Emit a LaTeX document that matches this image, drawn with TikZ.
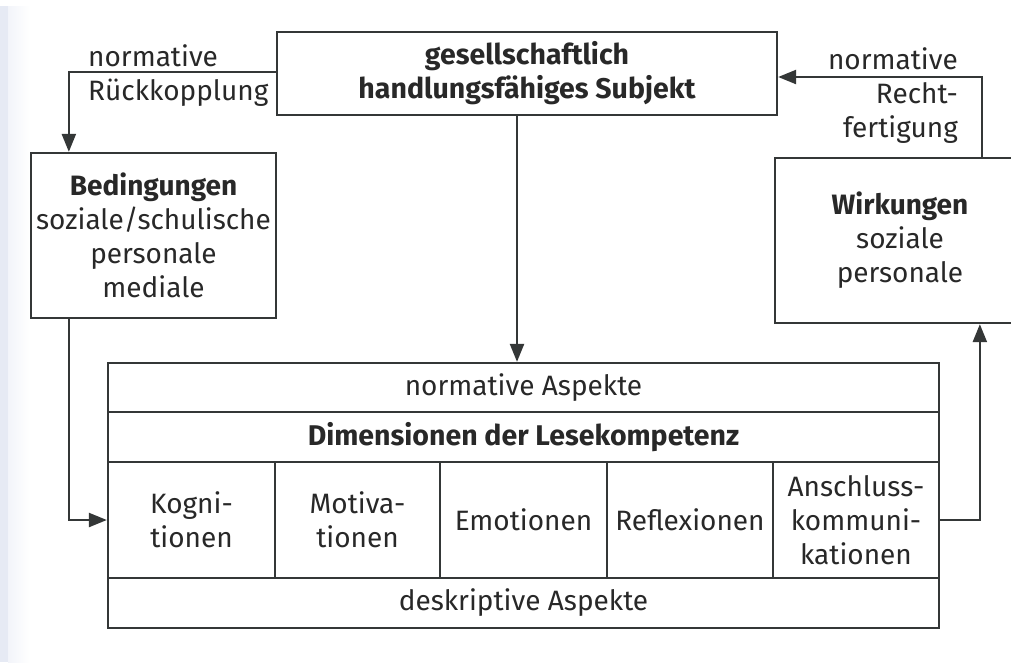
\documentclass[tikz,border=0pt]{standalone}
\usepackage{fontspec}
\setmainfont{Fira Sans}
\usetikzlibrary{arrows.meta}
\definecolor{ink}{RGB}{40,40,40}
\definecolor{rule}{RGB}{52,55,55}
\definecolor{pageedge}{RGB}{230,234,244}
\begin{document}
\begin{tikzpicture}[x=1pt,y=-1pt,
  every node/.style={text=ink, font=\fontsize{28}{34}\selectfont, inner sep=0pt, align=center},
  bold/.style={font=\fontsize{28.5}{34}\selectfont\bfseries},
  box/.style={draw=rule, line width=2.3pt},
  cell/.style={box, minimum height=116, minimum width=166},
  row/.style={box, minimum width=831, minimum height=50},
  arr/.style={draw=rule, line width=2.3pt, -{Triangle[length=18pt,width=14pt]}}]
\useasboundingbox (0,0) rectangle (1011,662);
\clip (0,0) rectangle (1011,662);
% paper edge on the left
\fill[white] (0,0) rectangle (1011,662);
\fill[pageedge] (0,6) rectangle (8,662);
\shade[left color=pageedge!50, right color=white] (8,6) rectangle (30,662);

% upper boxes
\node[box, bold, minimum width=500, minimum height=83] (top) at (527,73.5)
  {gesellschaftlich\\handlungsfähiges Subjekt};
\node[box, minimum width=245, minimum height=165] (bed) at (153.5,235.5)
  {\textbf{Bedingungen}\\soziale/schulische\\personale\\mediale};
\node[box, minimum width=250, minimum height=165] (wirk) at (900,240.5)
  {\textbf{Wirkungen}\\soziale\\personale};

% side labels
\node[anchor=north west, align=left] (lab1) at (88,44) {normative\\Rückkopplung};
\node[anchor=north east, align=right] (lab2) at (958,47) {normative\\Recht-\\fertigung};

% table of reading competence dimensions
\node[row, minimum height=49] (norm) at (523.5,387.5) {normative Aspekte};
\node[row, bold] (dim) at (523.5,437) {Dimensionen der Lesekompetenz};
\node[cell, minimum width=167] (kog) at (191.5,520) {Kogni-\\tionen};
\node[cell, minimum width=165] (mot) at (357.5,520) {Motiva-\\tionen};
\node[cell, minimum width=167] (emo) at (523.5,520) {Emotionen};
\node[cell] (ref) at (690,520) {Reflexionen};
\node[cell] (ans) at (856,520) {Anschluss-\\kommuni-\\kationen};
\node[row] (desk) at (523.5,603) {deskriptive Aspekte};

% connectors
\draw[arr] ([yshift=1.5pt]top.west) -| ([xshift=39pt]bed.north west);
\draw[arr] ([xshift=39pt]bed.south west) |- (kog.west);
\draw[arr] ([xshift=-10pt]top.south) -- ([xshift=-10pt]top.south |- norm.north);
\draw[arr] (ans.east) -| ([xshift=206pt]wirk.south west);
\draw[arr] ([xshift=208pt]wirk.north west) |- ([yshift=-3.5pt]top.east);
\end{tikzpicture}
\end{document}
